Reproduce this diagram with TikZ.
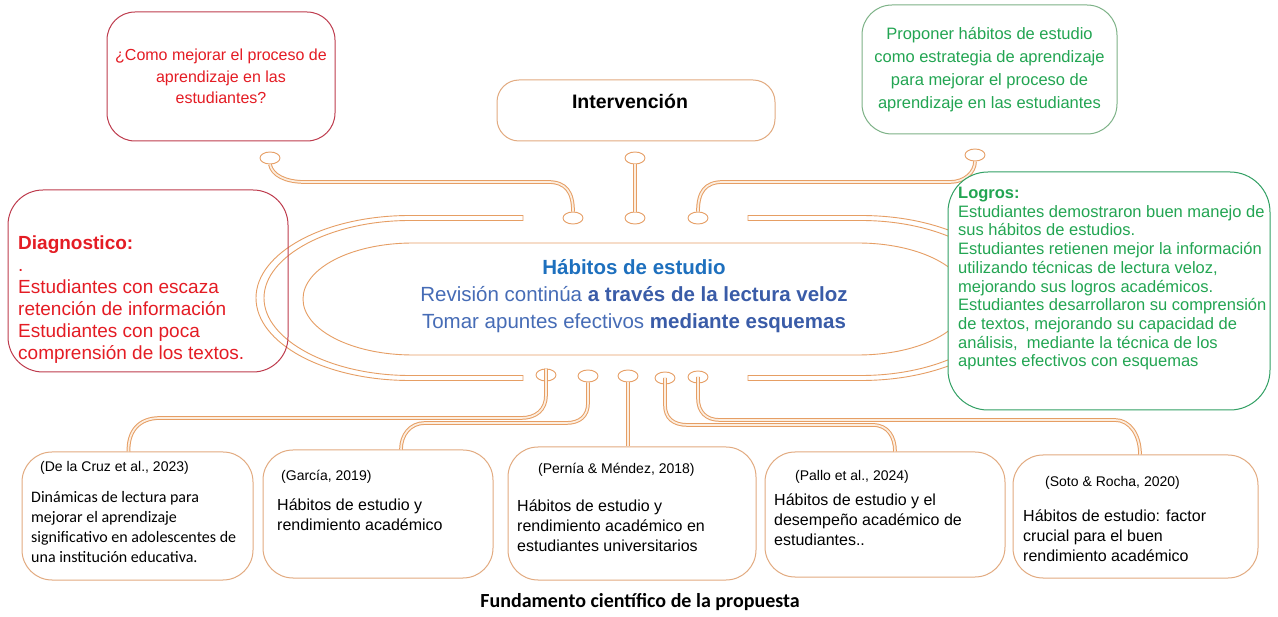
\documentclass[tikz,border=0pt]{standalone}
\usepackage{fontspec}
\setmainfont{Liberation Sans}
\newfontfamily\carl{Carlito}
\usetikzlibrary{shapes.geometric,calc}
\definecolor{lineC}{RGB}{230,158,100}
\definecolor{boxC}{RGB}{226,170,128}
\definecolor{connfill}{RGB}{252,238,224}
\definecolor{qred}{RGB}{190,60,78}
\definecolor{tred}{RGB}{228,28,36}
\definecolor{gtop}{RGB}{125,178,135}
\definecolor{glog}{RGB}{50,160,100}
\definecolor{gtxt}{RGB}{34,165,82}
\definecolor{habC}{RGB}{30,112,190}
\definecolor{revC}{RGB}{70,108,182}
\definecolor{revB}{RGB}{58,92,168}
\begin{document}
\begin{tikzpicture}[x=1pt,y=-1pt,
 circ/.style={ellipse, draw=lineC, line width=0.9pt, minimum width=20pt, minimum height=12pt, inner sep=0pt},
 conn/.style={draw=lineC, line width=1pt, double=connfill, double distance=1.7pt},
 ring/.style={draw=lineC, line width=0.9pt},
 refbox/.style={draw=boxC, line width=1pt, rounded corners=30pt, inner sep=0pt},
 tl/.style={inner sep=0pt, anchor=north west, align=left},
 cite/.style={inner sep=0pt, anchor=west, font=\fontsize{14}{16}\selectfont},
 body/.style={tl, font=\fontsize{16}{20}\selectfont},
]
\useasboundingbox[fill=white] (0,0) rectangle (1278,617);

% outer double rings
\draw[ring] (523,215.5) -- (410,215.5) .. controls (324,215.5) and (256,253) .. (256,298) .. controls (256,343) and (324,380.5) .. (410,380.5) -- (523,380.5) -- (523,375.5) -- (410,375.5) .. controls (330,375.5) and (264,340) .. (264,298) .. controls (264,256) and (330,220.5) .. (410,220.5) -- (523,220.5) -- cycle;
\draw[ring] (748,215.5) -- (861,215.5) .. controls (947,215.5) and (1015,253) .. (1015,298) .. controls (1015,343) and (947,380.5) .. (861,380.5) -- (748,380.5) -- (748,375.5) -- (861,375.5) .. controls (941,375.5) and (1007,340) .. (1007,298) .. controls (1007,256) and (941,220.5) .. (861,220.5) -- (748,220.5) -- cycle;
% inner stadium
\draw[ring] (413,243) -- (858,243) .. controls (919,243) and (968,268) .. (968,299) .. controls (968,330) and (919,355) .. (858,355) -- (413,355) .. controls (352,355) and (303,330) .. (303,299) .. controls (303,268) and (352,243) .. (413,243) -- cycle;

% circles
\node[circ] (ct1) at (270,158) {};
\node[circ] (ct2) at (635,158) {};
\node[circ] (ct3) at (975,155) {};
\node[circ] (cm1) at (573,218) {};
\node[circ] (cm2) at (635,218) {};
\node[circ] (cm3) at (698,218) {};
\node[circ] (cb1) at (546,375) {};
\node[circ] (cb2) at (588,376) {};
\node[circ] (cb3) at (628,376) {};
\node[circ] (cb4) at (665,378) {};
\node[circ] (cb5) at (698,377) {};

% top boxes
\node[draw=qred, line width=1pt, rounded corners=28pt, minimum width=228pt, minimum height=129pt, align=center, text=tred, font=\fontsize{16}{21.5}\selectfont] (q) at (221,76.5) {¿Como mejorar el proceso de\\aprendizaje en las\\estudiantes?};
\node[refbox, rounded corners=22pt, minimum width=278pt, minimum height=61pt] (iv) at (636,110.5) {};
\node[font=\bfseries\fontsize{19.5}{22}\selectfont, inner sep=0pt] (ivt) at (630,101) {Intervención};
\node[draw=gtop, line width=1pt, rounded corners=30pt, minimum width=255pt, minimum height=129pt, align=center, text=gtxt, font=\fontsize{16.5}{23}\selectfont] (g) at (989.5,69.5) {Proponer hábitos de estudio\\como estrategia de aprendizaje\\para mejorar el proceso de\\aprendizaje en las estudiantes};

% bottom boxes
\node[refbox, minimum width=231pt, minimum height=128pt] (b1) at (137.5,516) {};
\node[refbox, minimum width=230pt, minimum height=128pt] (b2) at (378,514) {};
\node[refbox, minimum width=248pt, minimum height=133pt] (b3) at (632,513.5) {};
\node[refbox, minimum width=240pt, minimum height=125pt] (b4) at (885,514.5) {};
\node[refbox, minimum width=245pt, minimum height=123pt] (b5) at (1135.5,516.5) {};

% top connectors
\draw[conn] (ct1.south) .. controls (272,175) and (285,182) .. (305,182) -- (548,182) .. controls (566,182) and (573,192) .. (cm1.north);
\draw[conn] (ct2.south) -- (cm2.north);
\draw[conn] (cm3.north) .. controls (698,192) and (705,182) .. (723,182) -- (950,182) .. controls (965,182) and (975,172) .. (ct3.south);
% bottom connectors
\draw[conn] (cb1.north) -- (546,395) .. controls (546,410) and (536,418) .. (521,418) -- (160,418) .. controls (138,418) and (128,432) .. ($(b1.north)+(-9,0)$);
\draw[conn] (cb2.south) -- (588,403) .. controls (588,416) and (580,423) .. (566,423) -- (425,423) .. controls (410,423) and (401,435) .. ($(b2.north)+(23,0)$);
\draw[conn] (cb3.south) -- (cb3.south |- b3.north);
\draw[conn] (cb4.center) -- (665,405) .. controls (665,418) and (673,425) .. (688,425) -- (873,425) .. controls (888,425) and (895,437) .. ($(b4.north)+(10,0)$);
\draw[conn] (cb5.center) -- (698,398) .. controls (698,412) and (706,420) .. (720,420) -- (1115,420) .. controls (1130,420) and (1140,435) .. ($(b5.north)+(4.5,0)$);

% side boxes
\node[draw=qred, line width=1pt, rounded corners=35pt, minimum width=280pt, minimum height=182pt] (dg) at (148,281) {};
\node[tl, text=tred, font=\fontsize{19}{22}\selectfont] (dgt) at (18,236) {\textbf{Diagnostico:}\\.\\Estudiantes con escaza\\retención de información\\Estudiantes con poca\\comprensión de los textos.};
\node[draw=glog, fill=white, line width=1pt, rounded corners=40pt, minimum width=322pt, minimum height=238pt] (lg) at (1109,291) {};
\node[tl, text=gtxt, font=\fontsize{16.5}{18.7}\selectfont] (lgt) at (958,187) {\textbf{Logros:}\\Estudiantes demostraron buen manejo de\\sus hábitos de estudios.\\Estudiantes retienen mejor la información\\utilizando técnicas de lectura veloz,\\mejorando sus logros académicos.\\Estudiantes desarrollaron su comprensión\\de textos, mejorando su capacidad de\\análisis,\ \ mediante la técnica de los\\apuntes efectivos con esquemas};

% center text
\node[align=center, inner sep=0pt, font=\fontsize{20.5}{27}\selectfont] (ctx) at (634,296) {\textcolor{habC}{\textbf{Hábitos de estudio}}\\\textcolor{revC}{Revisión continúa \textcolor{revB}{\textbf{a través de la lectura veloz}}}\\\textcolor{revC}{Tomar apuntes efectivos \textcolor{revB}{\textbf{mediante esquemas}}}};

% bottom texts
\node[cite] (c1) at (40,468) {(De la Cruz et al., 2023)};
\node[tl, font=\carl\fontsize{16}{20}\selectfont] (t1) at (31,491) {Dinámicas de lectura para\\mejorar el aprendizaje\\significativo en adolescentes de\\una institución educativa.};
\node[cite] (c2) at (281,477) {(García, 2019)};
\node[body] (t2) at (277,498.5) {Hábitos de estudio y\\rendimiento académico};
\node[cite] (c3) at (538,470) {(Pernía \& Méndez, 2018)};
\node[body] (t3) at (517,499.5) {Hábitos de estudio y\\rendimiento académico en\\estudiantes universitarios};
\node[cite] (c4) at (795,477) {(Pallo et al., 2024)};
\node[body] (t4) at (774,493.5) {Hábitos de estudio y el\\desempeño académico de\\estudiantes..};
\node[cite] (c5) at (1045,483) {(Soto \& Rocha, 2020)};
\node[body] (t5) at (1023,509.5) {Hábitos de estudio: factor\\crucial para el buen\\rendimiento académico};

\node[font=\carl\bfseries\fontsize{20}{24}\selectfont, inner sep=0pt] (title) at (640,602) {Fundamento científico de la propuesta};
\end{tikzpicture}
\end{document}
